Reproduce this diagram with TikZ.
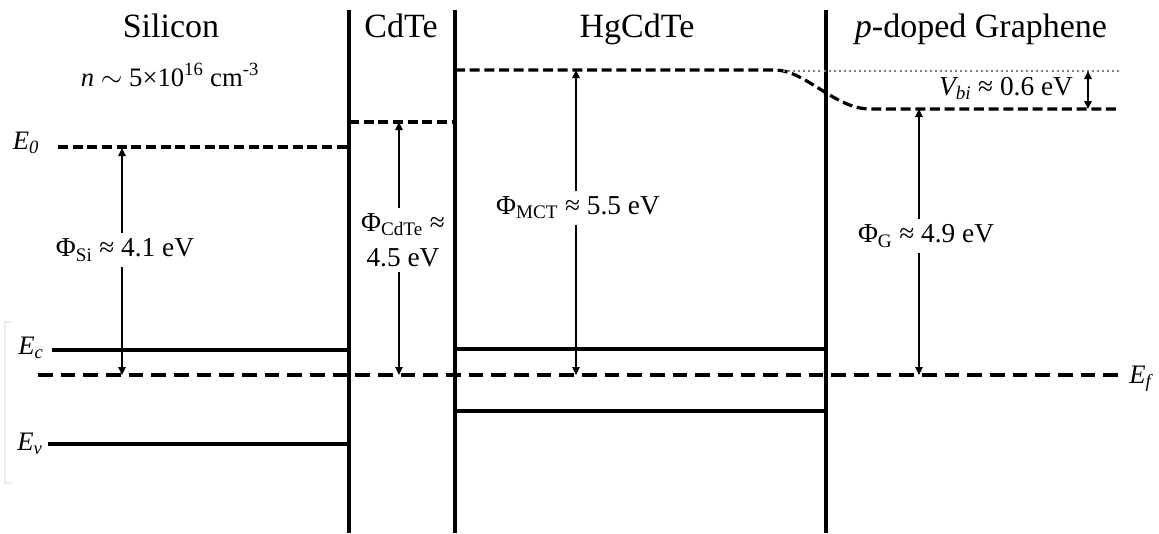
\documentclass[tikz,border=0pt]{standalone}
\usepackage{fontspec}
\setmainfont{Liberation Serif}
\usetikzlibrary{arrows.meta, positioning}

\begin{document}
\begin{tikzpicture}[
  x=0.75pt, y=-0.75pt, % one unit = one pixel of the reference, y downwards
  wall/.style={line width=2.3pt},
  band/.style={line width=2.3pt},
  vac/.style={line width=2.4pt, dash pattern=on 7.5pt off 3.5pt},
  fermi/.style={line width=2.5pt, dash pattern=on 11pt off 6pt},
  refl/.style={line width=1.5pt, black!50, dash pattern=on 1.5pt off 2.3pt},
  arr/.style={-{Triangle[length=6pt, width=5.5pt]}, line width=1.4pt},
  dbl/.style={{Triangle[length=6pt, width=5.5pt]}-{Triangle[length=6pt, width=5.5pt]}, line width=1.4pt},
  title/.style={font=\fontsize{25.5}{30}\selectfont, anchor=base},
  lbl/.style={font=\fontsize{20.5}{26}\selectfont, align=center, inner sep=4pt},
  lvl/.style={font=\fontsize{20}{24}\selectfont\itshape, anchor=base, inner sep=0pt}
]
\useasboundingbox (0,0) rectangle (1159,533);

% Faint bracket left over on the left edge
\draw[black!7, line width=1pt] (12,322) -- (5,322) -- (5,483) -- (12,483);

% Interfaces
\coordinate (w1t) at (349,10);  \coordinate (w1b) at (349,533);
\coordinate (w2t) at (455,10);  \coordinate (w2b) at (455,533);
\coordinate (w3t) at (826,10);  \coordinate (w3b) at (826,533);
\draw[wall] (w1t) -- (w1b);
\draw[wall] (w2t) -- (w2b);
\draw[wall] (w3t) -- (w3b);

% Titles
\node[title] (tsi) at (171,37) {Silicon};
\node[title] (tcd) at (401,37) {CdTe};
\node[title] (tmct) at (637,37) {HgCdTe};
\node[title] (tgr) at (981,37) {\textit{p}-doped Graphene};
\node[font=\fontsize{20}{24}\selectfont, anchor=base] (dop) at (170,86)
  {\textit{n} $\sim$ 5×10\textsuperscript{16} cm\textsuperscript{-3}};

% Silicon levels
\coordinate (si0l) at (58,147);  \coordinate (si0r) at (349,147);
\coordinate (sicl) at (52,350);  \coordinate (sicr) at (349,350);
\coordinate (sivl) at (48,444);  \coordinate (sivr) at (349,444);
\draw[vac] (si0l) -- (si0r);
\draw[band] (sicl) -- (sicr);
\draw[band] (sivl) -- (sivr);
\node[lvl] (e0) at (26,149) {E\textsubscript{0}};
\node[lvl] (ec) at (31,354) {E\textsubscript{c}};
\node[lvl] (ev) at (30,450) {E\textsubscript{v}};

% CdTe vacuum level
\coordinate (cd0l) at (349,122);  \coordinate (cd0r) at (455,122);
\draw[vac] (cd0l) -- (cd0r);

% HgCdTe levels, bending down into graphene
\coordinate (mct0l) at (455,70);  \coordinate (mct0b) at (775,70);
\coordinate (gr0b) at (870,109);  \coordinate (gr0r) at (1119,109);
\coordinate (refl) at (783,71);   \coordinate (refr) at (1119,71);
\draw[vac] (mct0l) -- (mct0b) .. controls +(30,0) and +(-35,0) .. (gr0b) -- (gr0r);
\draw[refl] (refl) -- (refr);
\coordinate (mctcl) at (455,349);  \coordinate (mctcr) at (826,349);
\coordinate (mctvl) at (455,411);  \coordinate (mctvr) at (826,411);
\draw[band] (mctcl) -- (mctcr);
\draw[band] (mctvl) -- (mctvr);

% Fermi level
\coordinate (efl) at (38,375);  \coordinate (efr) at (1119,375);
\draw[fermi] (efl) -- (efr);
\node[lvl, anchor=base west] (ef) at (1129,383) {E\textsubscript{f}};

% Work functions
\coordinate (sia) at (122,148);  \coordinate (sib) at (122,375);
\node[lbl] (phisi) at (125,250) {Φ\textsubscript{Si} ≈ 4.1 eV};
\draw[arr] (phisi.north -| sia) -- (sia);
\draw[arr] (phisi.south -| sib) -- (sib);

\coordinate (cda) at (399,122);  \coordinate (cdb) at (399,375);
\node[lbl] (phicd) at (403,240) {Φ\textsubscript{CdTe} ≈\\4.5 eV};
\draw[arr] (phicd.north -| cda) -- (cda);
\draw[arr] (phicd.south -| cdb) -- (cdb);

\coordinate (mcta) at (576,70);  \coordinate (mctb) at (576,375);
\node[lbl] (phimct) at (578,208) {Φ\textsubscript{MCT} ≈ 5.5 eV};
\draw[arr] (phimct.north -| mcta) -- (mcta);
\draw[arr] (phimct.south -| mctb) -- (mctb);

\coordinate (gra) at (919,109);  \coordinate (grb) at (919,375);
\node[lbl] (phig) at (926,236) {Φ\textsubscript{G} ≈ 4.9 eV};
\draw[arr] (phig.north -| gra) -- (gra);
\draw[arr] (phig.south -| grb) -- (grb);

% Built-in potential
\coordinate (vba) at (1088,71);  \coordinate (vbb) at (1088,109);
\draw[dbl] (vba) -- (vbb);
\node[lbl, anchor=base] (vbi) at (1006,95) {\textit{V\textsubscript{bi}} ≈ 0.6 eV};

\end{tikzpicture}
\end{document}
